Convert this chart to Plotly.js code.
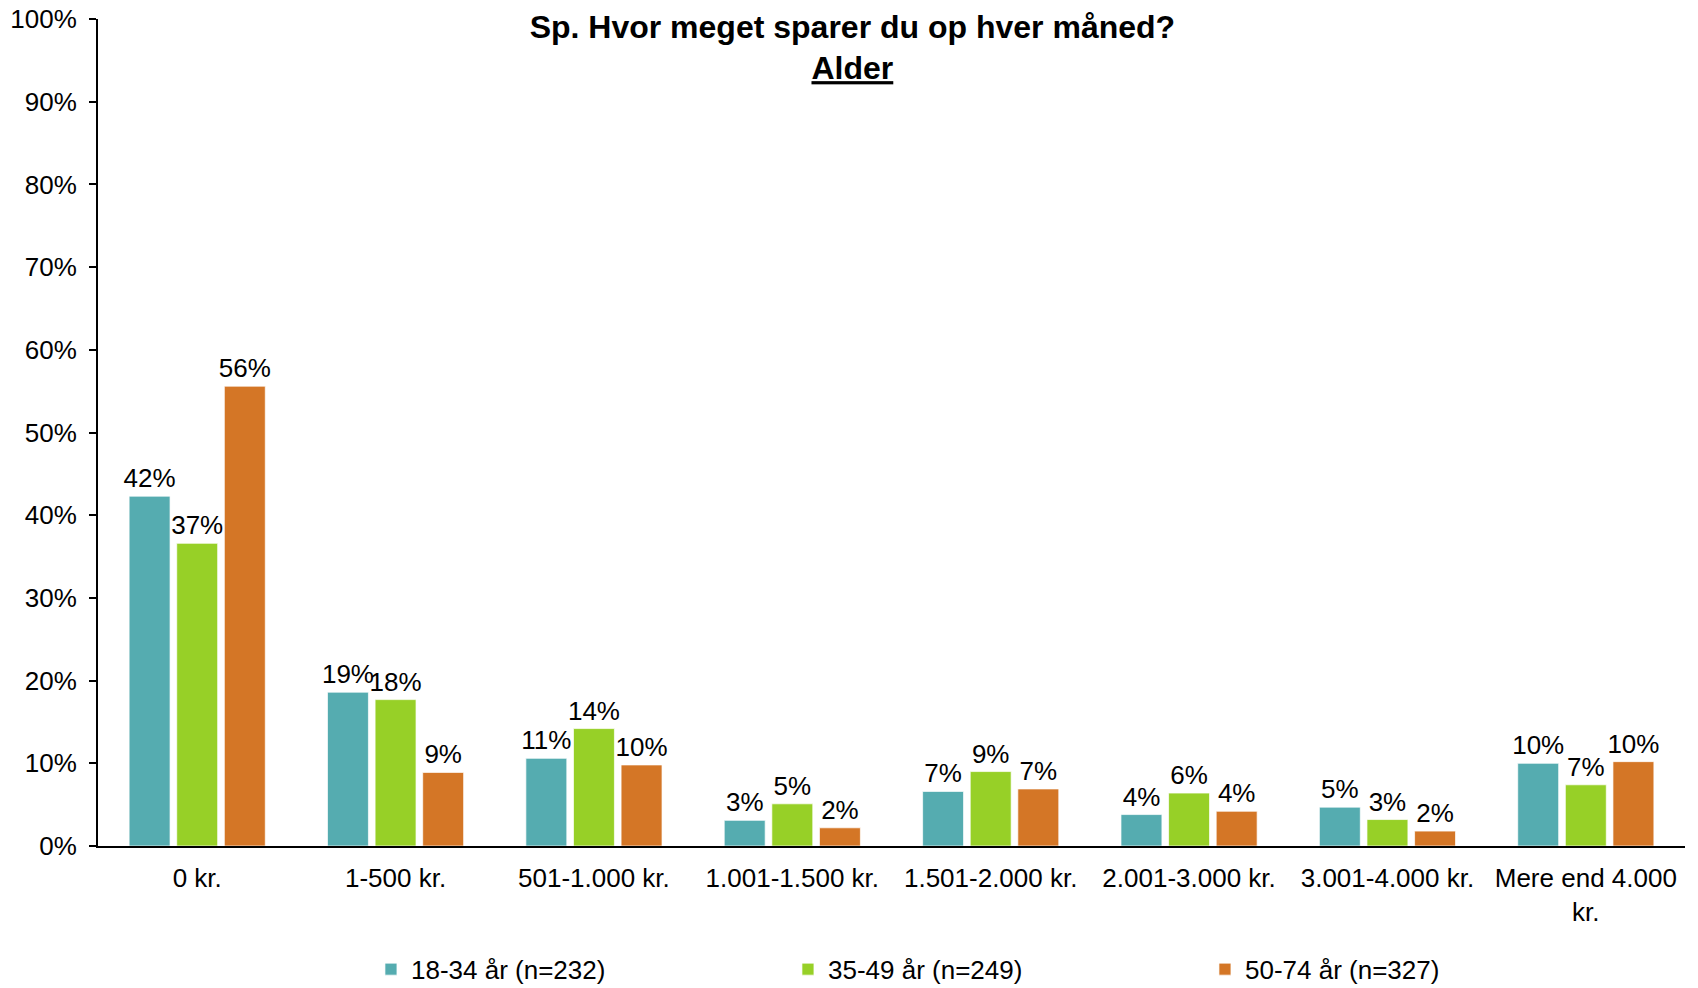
<!DOCTYPE html>
<html>
<head>
<meta charset="utf-8">
<script src="https://cdn.plot.ly/plotly-3.0.1.min.js"></script>
<style>html,body{margin:0;padding:0;background:#fff;}#chart{width:1698px;height:988px;}</style>
</head>
<body>
<div id="chart"></div>
<script>
var categories = ["0 kr.", "1-500 kr.", "501-1.000 kr.", "1.001-1.500 kr.", "1.501-2.000 kr.", "2.001-3.000 kr.", "3.001-4.000 kr.", "Mere end 4.000<br>kr."];
var seriesNames = ["18-34 år (n=232)", "35-49 år (n=249)", "50-74 år (n=327)"];
var age18to34 = [42.3, 18.6, 10.6, 3.1, 6.6, 3.8, 4.7, 10.0];
var age35to49 = [36.6, 17.7, 14.2, 5.1, 9.0, 6.4, 3.2, 7.4];
var age50to74 = [55.6, 8.9, 9.8, 2.2, 6.9, 4.2, 1.8, 10.2];
var colors = ["#55ACB0", "#97D027", "#D47626"];
var yTicks = [0, 10, 20, 30, 40, 50, 60, 70, 80, 90, 100];

var FONT = "'Liberation Sans', Arial, sans-serif";
var series = [age18to34, age35to49, age50to74];
var data = series.map(function (vals, i) {
  return {
    type: "bar",
    name: seriesNames[i],
    x: categories,
    y: vals,
    marker: { color: colors[i], line: { color: "rgba(255,255,255,0.7)", width: 1 } },
    texttemplate: "%{y:.0f}%",
    textposition: "outside",
    constraintext: "none",
    textfont: { family: FONT, size: 26, color: "#000" },
    cliponaxis: false,
    hoverinfo: "x+y+name"
  };
});

var layout = {
  width: 1698,
  height: 988,
  paper_bgcolor: "#fff",
  plot_bgcolor: "#fff",
  font: { family: FONT, size: 26, color: "#000" },
  margin: { l: 98, r: 13, t: 19, b: 142, autoexpand: false },
  barmode: "group",
  bargap: 0.28,
  bargroupgap: 0.14,
  title: {
    text: "Sp. Hvor meget sparer du op hver måned?<br><u>Alder</u>",
    font: { family: FONT, size: 32, color: "#000", weight: "bold" },
    xref: "container",
    x: 0.502,
    xanchor: "center",
    yref: "container",
    y: 0.962,
    yanchor: "top"
  },
  xaxis: {
    type: "category",
    showline: true,
    linecolor: "#000",
    linewidth: 2,
    ticks: "",
    showgrid: false,
    zeroline: false,
    tickfont: { family: FONT, size: 26, color: "#000" },
    ticklabelstandoff: 8
  },
  yaxis: {
    range: [0, 100],
    tickvals: yTicks,
    ticktext: yTicks.map(function (v) { return v + "%"; }),
    showline: true,
    linecolor: "#000",
    linewidth: 2,
    ticks: "outside",
    ticklen: 7,
    tickwidth: 1.5,
    tickcolor: "#000",
    showgrid: false,
    zeroline: false,
    tickfont: { family: FONT, size: 26, color: "#000" },
    ticklabelstandoff: 7
  },
  showlegend: true,
  legend: {
    orientation: "h",
    xref: "paper",
    x: 0.172,
    xanchor: "left",
    yref: "container",
    y: 0.019,
    yanchor: "middle",
    entrywidth: 372,
    entrywidthmode: "pixels",
    font: { family: FONT, size: 26, color: "#000" },
    bgcolor: "rgba(0,0,0,0)",
    traceorder: "normal"
  }
};

Plotly.newPlot("chart", data, layout, { displayModeBar: false, responsive: false });
</script>
</body>
</html>
